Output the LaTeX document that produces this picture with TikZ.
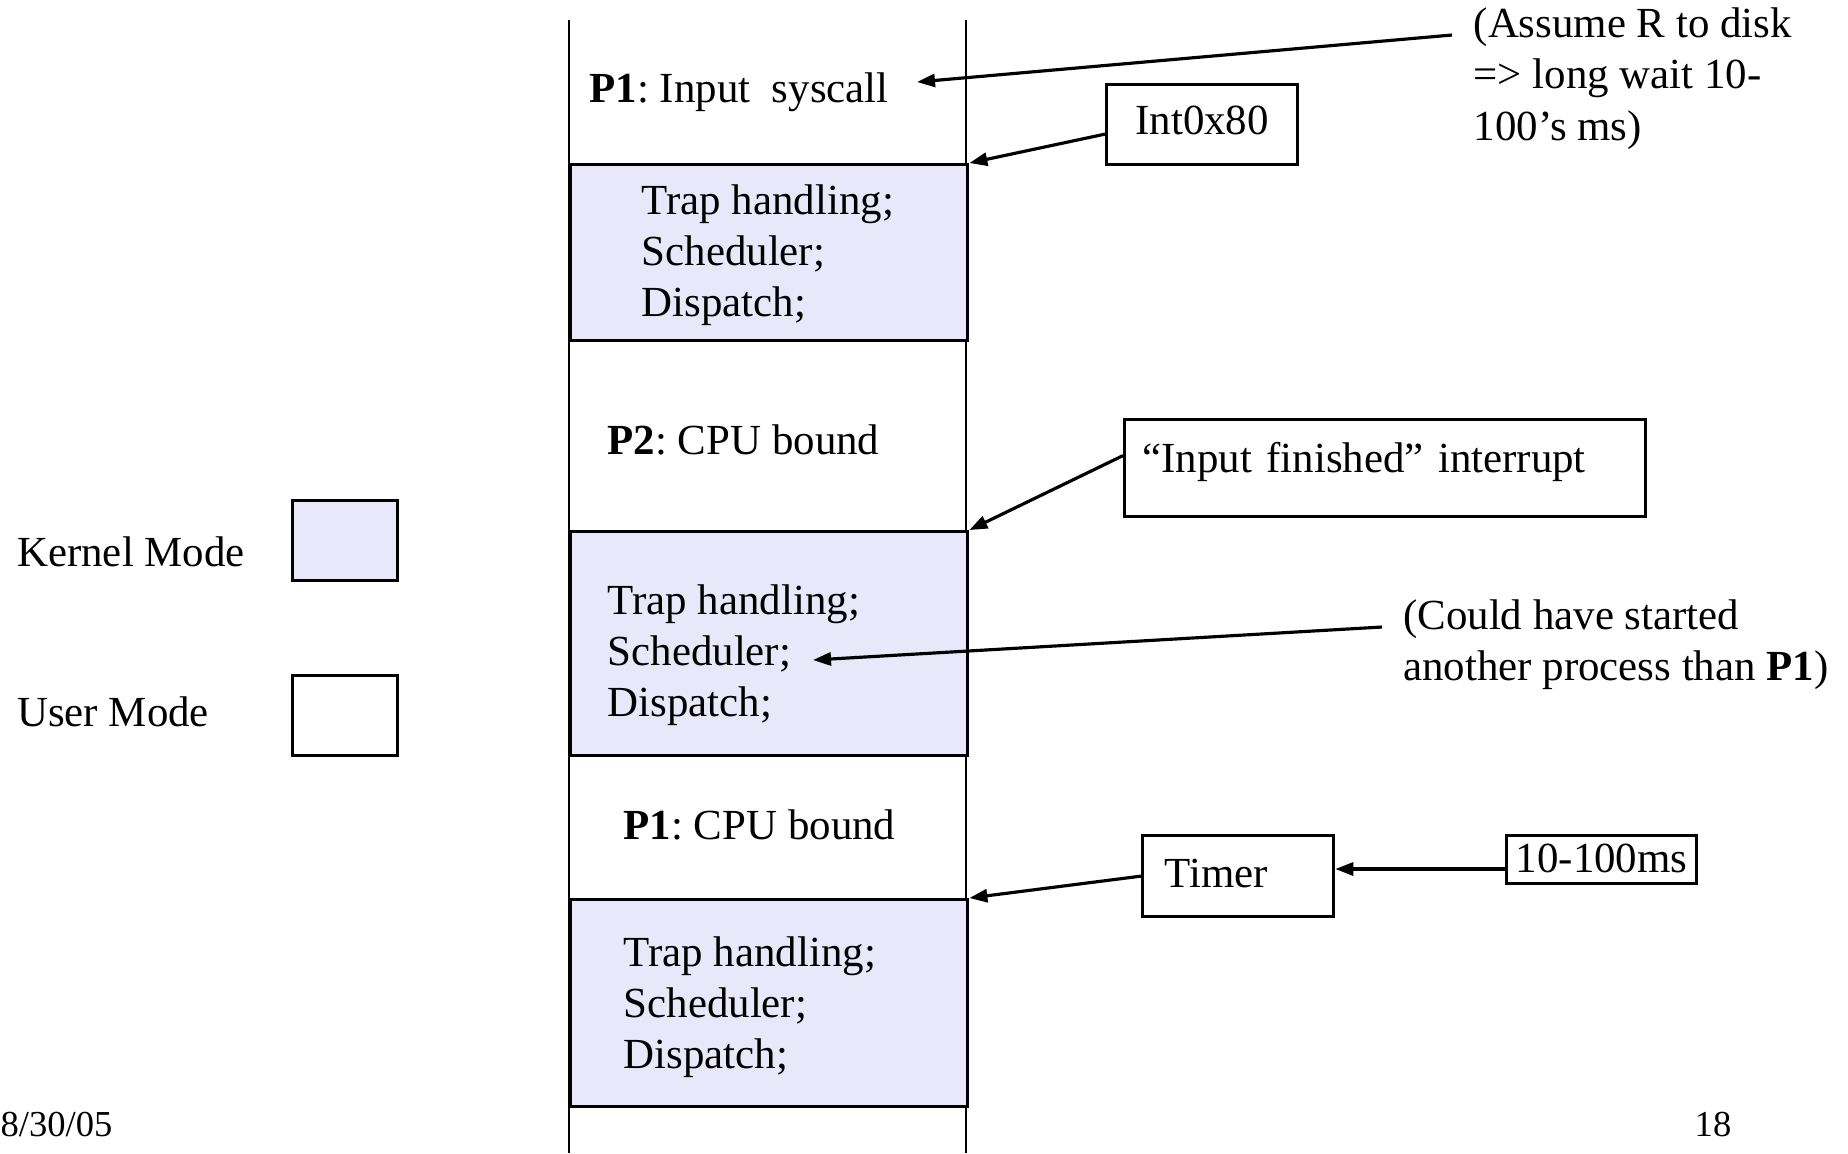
\documentclass[tikz,border=0pt]{standalone}
\usepackage{fontspec}
\setmainfont{Liberation Serif}
\usetikzlibrary{arrows.meta}
\definecolor{kern}{RGB}{232,232,250}
\begin{document}
\frenchspacing
\begin{tikzpicture}[x=0.01cm,y=-0.01cm,
  every node/.style={font=\fontsize{12.2}{14.6}\selectfont},
  txt/.style={inner sep=0pt, anchor=base west},
  kbox/.style={draw, fill=kern, line width=0.9pt, anchor=north west, minimum width=3.97cm, inner sep=0pt},
  bx/.style={draw, line width=0.9pt, anchor=north west, inner ysep=0pt},
  arr/.style={-{Triangle[length=1.8mm,width=1.3mm]}, line width=0.9pt},
  col/.style={line width=0.8pt}]
\useasboundingbox (0,0) rectangle (1848,1153);
% column
\draw[col] (569,20) -- (569,1153);
\draw[col] (966,20) -- (966,1153);
\node[kbox, minimum height=1.76cm] (k1) at (569,163) {};
\node[kbox, minimum height=2.24cm] (k2) at (569,530) {};
\node[kbox, minimum height=2.07cm] (k3) at (569,898) {};
% column texts
\node[txt] (p1) at (589,102) {\textbf{P1}: Input\ \ syscall};
\node[txt] (t1) at (641,214) {\begin{tabular}[t]{@{}l@{}}Trap handling;\\Scheduler;\\Dispatch;\end{tabular}};
\node[txt] (p2) at (607,454) {\textbf{P2}: CPU bound};
\node[txt] (t2) at (607,614) {\begin{tabular}[t]{@{}l@{}}Trap handling;\\Scheduler;\\Dispatch;\end{tabular}};
\node[txt] (p3) at (623,839) {\textbf{P1}: CPU bound};
\node[txt] (t3) at (623,966) {\begin{tabular}[t]{@{}l@{}}Trap handling;\\Scheduler;\\Dispatch;\end{tabular}};
% right side boxes
\node[bx, minimum width=1.91cm, minimum height=0.80cm, text height=0.30cm, text depth=0.09cm] (int) at (1105,82.5) {Int0x80};
\node[bx, minimum width=5.21cm, minimum height=0.97cm, text width=4.85cm, inner xsep=0.18cm, align=left, text height=0.30cm, text depth=0.21cm] (inf) at (1123,418) {``Input finished'' interrupt};
\node[bx, minimum width=1.91cm, minimum height=0.81cm, text width=1.47cm, inner xsep=0.22cm, align=left, text height=0.30cm, text depth=0.07cm] (timer) at (1141,834) {Timer};
\node[bx, minimum width=1.90cm, minimum height=0.48cm, inner xsep=0.05cm, text height=0.30cm, text depth=0.04cm] (ms) at (1505,834) {10-100ms};
% notes
\node[txt] (asm) at (1473,37.6) {\begin{tabular}[t]{@{}l@{}}(Assume R to disk\\=> long wait 10-\\100’s ms)\end{tabular}};
\node[txt] (could) at (1402.5,629) {\begin{tabular}[t]{@{}l@{}}(Could have started\\another process than \textbf{P1})\end{tabular}};
% legend
\node[txt] (kl) at (16.5,566) {Kernel Mode};
\node[txt] (ul) at (16.5,726) {User Mode};
\node[kbox, minimum width=1.05cm, minimum height=0.80cm] (kleg) at (291,498.5) {};
\node[bx, minimum width=1.05cm, minimum height=0.80cm, inner sep=0pt] (uleg) at (291,674) {};
% footer
\node[txt, font=\fontsize{10.4}{12}\selectfont] (date) at (0,1136) {8/30/05};
\node[txt, font=\fontsize{10.4}{12}\selectfont] (pg) at (1694,1136) {18};
% arrows
\coordinate (a1s) at (1452,35);
\coordinate (a1e) at (917,82);
\draw[arr] (a1s) -- (a1e);
\draw[arr] ([yshift=-0.1cm]int.west) -- (k1.north east);
\draw[arr] ([yshift=0.125cm]inf.west) -- (k2.north east);
\coordinate (a4s) at (1382,627);
\coordinate (a4e) at (813,660);
\draw[arr] (a4s) -- (a4e);
\draw[arr] (timer.west) -- (k3.north east);
\coordinate (m6) at (1505,869);
\draw[arr] (ms.west |- m6) -- (timer.east |- m6);
\end{tikzpicture}
\end{document}
